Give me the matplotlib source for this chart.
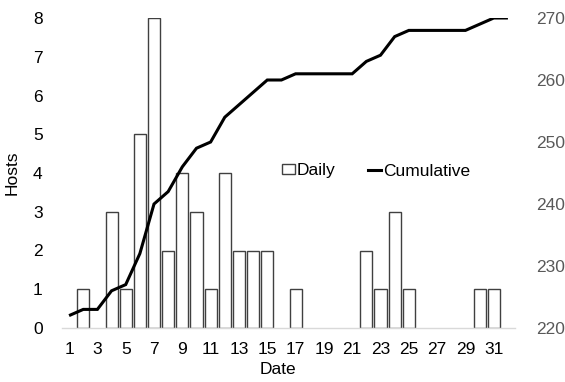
import numpy as np
import matplotlib
matplotlib.use("Agg")
import matplotlib.pyplot as plt
from matplotlib.patches import Rectangle
from matplotlib.lines import Line2D

plt.rcParams['font.family'] = ['Liberation Sans', 'DejaVu Sans']

dates = list(range(1, 33))
daily = [0, 1, 0, 3, 1, 5, 8, 2, 4, 3, 1, 4, 2, 2, 2, 0, 1, 0, 0, 0, 0, 2, 1, 3, 1, 0, 0, 0, 0, 1, 1, 0]
cumulative = [222, 223, 223, 226, 227, 232, 240, 242, 246, 249, 250, 254, 256, 258, 260, 260,
              261, 261, 261, 261, 261, 263, 264, 267, 268, 268, 268, 268, 268, 269, 270, 270]
tick_labels = [str(d) for d in dates[::2]]

W, H = 565, 382
fig = plt.figure(figsize=(W / 100, H / 100), dpi=100)
ax = fig.add_axes([62 / W, (H - 328) / H, 453 / W, 310 / H])
ax2 = ax.twinx()

x = np.arange(len(dates))
d = np.array(daily)
mask = d > 0
ax.bar(x[mask], d[mask], width=0.85, facecolor='white', edgecolor='#404040', linewidth=1.0, zorder=2)
ax2.plot(x, cumulative, color='black', linewidth=2.2, solid_capstyle='butt', solid_joinstyle='miter', zorder=3)

ax.set_xlim(-0.5, len(dates) - 0.5)
ax.set_ylim(0, 8)
ax2.set_ylim(220, 270)
ax.set_yticks(range(0, 9))
ax2.set_yticks(range(220, 271, 10))
ax.set_xticks(x[::2])
ax.set_xticklabels(tick_labels)

fs = 12.5
for a in (ax, ax2):
    for s in ('top', 'left', 'right', 'bottom'):
        a.spines[s].set_visible(False)
ax.spines['bottom'].set_visible(True)
ax.spines['bottom'].set_color('#d9d9d9')
ax.spines['bottom'].set_linewidth(1.0)
ax.tick_params(axis='both', length=0, labelsize=fs, colors='black')
ax.tick_params(axis='x', pad=10)
ax.tick_params(axis='y', pad=14)
ax2.tick_params(axis='y', length=0, labelsize=fs, colors='#595959', pad=15)

ax.set_xlabel('Date', fontsize=fs)
ax.set_ylabel('Hosts', fontsize=fs)
ax.xaxis.set_label_coords(0.477, -0.135)
ax.yaxis.set_label_coords(-0.11, 0.5)
ax.xaxis.label.set_va('center')
ax.yaxis.label.set_va('center')

handles = [Rectangle((0, 0), 1, 1, facecolor='white', edgecolor='#404040', linewidth=1.0),
           Line2D([0], [0], color='black', linewidth=2.2)]
fig.legend(handles, ['Daily', 'Cumulative'], loc='center', bbox_to_anchor=(376 / W, 1 - 171 / H),
           ncol=2, frameon=False, fontsize=fs, handlelength=0.75, handleheight=0.5,
           handletextpad=0.1, columnspacing=1.9)

fig.savefig('out.png', dpi=100)
